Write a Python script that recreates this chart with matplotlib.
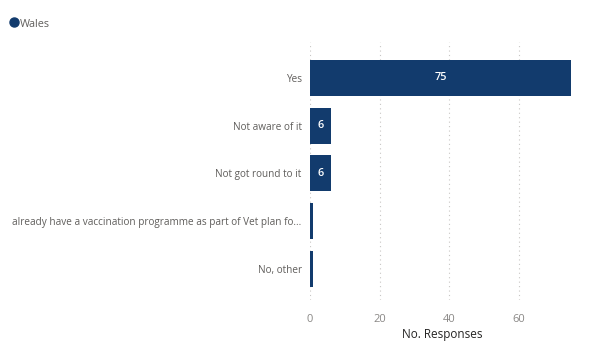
import matplotlib.pyplot as plt
from matplotlib.lines import Line2D

# data
categories = [
    "Yes",
    "Not aware of it",
    "Not got round to it",
    "already have a vaccination programme as part of Vet plan fo...",
    "No, other",
]
responses = [75, 6, 6, 1, 1]
series_name = "Wales"

navy = "#123B6D"
grey_text = "#605E5C"

plt.rcParams["font.family"] = ["Open Sans", "DejaVu Sans"]

fig = plt.figure(figsize=(6.02, 3.5), dpi=100)
ax = fig.add_axes([310 / 602, 1 - 300 / 350, 265 / 602, 258 / 350])

ypos = list(range(len(categories)))
bars = ax.barh(ypos, responses, height=0.75, color=navy)

# value labels inside the bars (only where there's room)
for b, v in zip(bars, responses):
    if v >= 3:
        ax.text(b.get_width() / 2, b.get_y() + b.get_height() / 2, str(v),
                ha="center", va="center", color="white", fontsize=7.8,
                fontweight="semibold")

ax.set_yticks(ypos)
ax.set_yticklabels(categories, fontsize=7.2, color=grey_text)
ax.set_ylim(4.65, -0.75)
ax.set_xlim(0, 76.2)
ax.set_xticks([0, 20, 40, 60])
ax.tick_params(axis="x", labelsize=8, colors="#8A8886", length=0, pad=10)
ax.tick_params(axis="y", length=0, pad=6)

ax.grid(axis="x", linestyle=(0, (1, 3)), color="#C8C6C4", linewidth=0.8)
ax.set_axisbelow(True)
for s in ax.spines.values():
    s.set_visible(False)

ax.set_xlabel("No. Responses", fontsize=8.5, color="#252423", labelpad=2)

# legend: dot + series name, top-left
fig.add_artist(Line2D([14 / 602], [1 - 22 / 350], transform=fig.transFigure,
                      marker="o", color=navy, markersize=6.5, linestyle="none"))
fig.text(20 / 602, 1 - 24.5 / 350, series_name, fontsize=7.8, color=grey_text,
         va="center", ha="left")

fig.savefig("out.png", dpi=100)
